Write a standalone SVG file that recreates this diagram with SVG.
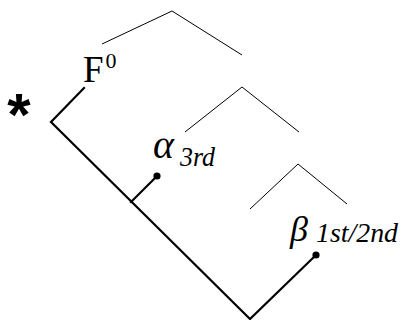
<svg xmlns="http://www.w3.org/2000/svg" width="401" height="320" viewBox="0 0 401 320">
<style>
.thin{fill:none;stroke:#000;stroke-width:1}
.thick{fill:none;stroke:#000;stroke-width:2.2;stroke-linecap:square}
.dot{fill:#000}
.serif{font-family:"Liberation Serif","DejaVu Serif",serif;fill:#000}
.it{font-family:"Liberation Serif","DejaVu Serif",serif;font-style:italic;fill:#000}
.sans{font-family:"Liberation Sans","DejaVu Sans",sans-serif;font-weight:bold;fill:#000}
</style>
<rect width="401" height="320" fill="#fff"/>
<g id="connectors">
<polyline class="thin" points="102,44 172,11 242,55"/>
<polyline class="thin" points="185,132 242,87 299,132"/>
<polyline class="thin" points="250,209 298,164 347,204"/>
<polyline class="thick" points="84,88 51,122 250,319 316,255"/>
<line class="thick" x1="131" y1="202" x2="157" y2="176"/>
</g>
<g id="star"><text class="sans" x="19" y="135" font-size="60" text-anchor="middle">*</text></g>
<g id="F0"><text class="serif" x="83" y="82" font-size="37">F<tspan font-size="22" dx="2" dy="-14">0</tspan></text></g>
<g id="alpha">
<text class="it" x="153" y="158" font-size="40">α</text>
<text class="it" x="180" y="166" font-size="28" textLength="35" lengthAdjust="spacingAndGlyphs">3rd</text>
<circle class="dot" cx="157" cy="176" r="3.6"/>
</g>
<g id="beta">
<text class="it" x="290" y="241" font-size="36">β</text>
<text class="it" x="316" y="242" font-size="28" textLength="82" lengthAdjust="spacingAndGlyphs">1st/2nd</text>
<circle class="dot" cx="316" cy="255" r="3.6"/>
</g>
</svg>
